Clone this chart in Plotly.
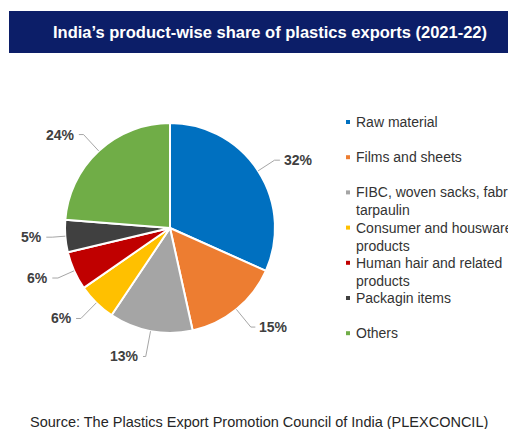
import math
import plotly.graph_objects as go

# ---- data ----
categories = [
    "Raw material",
    "Films and sheets",
    "FIBC, woven sacks, fabrics and<br>tarpaulin",
    "Consumer and housware<br>products",
    "Human hair and related<br>products",
    "Packagin items",
    "Others",
]
shares = [32, 15, 13, 6, 6, 5, 24]
colors = ["#0070C0", "#ED7D31", "#A5A5A5", "#FFC000", "#C00000", "#404040", "#70AD47"]

title_text = "India\u2019s product-wise share of plastics exports (2021-22)"
source_text = "Source: The Plastics Export Promotion Council of India (PLEXCONCIL)"

# ---- layout geometry (pixels) ----
W, H = 508, 429
CX, CY, R = 170, 228, 105
FONT = "Liberation Sans, Arial, sans-serif"


def px(x):
    return x / W


def py(y):
    return 1 - y / H


fig = go.Figure()
fig.add_trace(go.Pie(
    labels=[c.replace("<br>", " ") for c in categories],
    values=shares,
    marker=dict(colors=colors, line=dict(color="white", width=2)),
    sort=False,
    direction="clockwise",
    rotation=0,
    textinfo="none",
    hoverinfo="label+value",
    showlegend=False,
    domain=dict(x=[px(CX - R), px(CX + R)], y=[py(CY + R), py(CY - R)]),
))

shapes = []
annotations = []

# title bar
shapes.append(dict(type="rect", xref="paper", yref="paper",
                   x0=px(9), x1=1.0, y0=py(53), y1=py(11),
                   fillcolor="#0c1e68", line=dict(width=0), layer="below"))
annotations.append(dict(text="<b>" + title_text + "</b>", xref="paper", yref="paper",
                        x=px(270), y=py(32), xanchor="center", yanchor="middle",
                        showarrow=False, font=dict(family=FONT, size=16.5, color="white")))

# data labels with elbow leader lines
total = sum(shares)
cum = 0
for v in shares:
    t = math.radians((cum + v / 2) / total * 360)
    cum += v
    s, c = math.sin(t), -math.cos(t)
    d = 12 + 14 * abs(c)
    x0, y0 = CX + R * s, CY + R * c
    x1, y1 = CX + (R + d) * s, CY + (R + d) * c
    side = 1 if s >= 0 else -1
    x2 = x1 + side * (2 + 4 * abs(s))
    shapes.append(dict(type="path", xref="paper", yref="paper",
                       path=f"M {px(x0)},{py(y0)} L {px(x1)},{py(y1)} L {px(x2)},{py(y1)}",
                       line=dict(color="#a6a6a6", width=1)))
    annotations.append(dict(text=f"<b>{v}%</b>", xref="paper", yref="paper",
                            x=px(x2 + side * 2), y=py(y1),
                            xanchor="left" if side > 0 else "right", yanchor="middle",
                            showarrow=False,
                            font=dict(family=FONT, size=14, color="#404040")))

# legend (manual, to match tiny square markers)
LEG_X, LEG_Y0, LEG_DY = 348, 122, 35.2
for i, (name, col) in enumerate(zip(categories, colors)):
    yc = LEG_Y0 + i * LEG_DY
    shapes.append(dict(type="rect", xref="paper", yref="paper",
                       x0=px(LEG_X - 2), x1=px(LEG_X + 2), y0=py(yc + 2), y1=py(yc - 2),
                       fillcolor=col, line=dict(width=0)))
    annotations.append(dict(text=name, xref="paper", yref="paper",
                            x=px(LEG_X + 6), y=py(yc - 10), xanchor="left", yanchor="top",
                            align="left", showarrow=False,
                            font=dict(family=FONT, size=14, color="#333333")))

# source
annotations.append(dict(text=source_text, xref="paper", yref="paper",
                        x=px(259), y=py(422), xanchor="center", yanchor="middle",
                        showarrow=False, font=dict(family=FONT, size=14.5, color="#262626")))

fig.update_layout(
    width=W, height=H,
    margin=dict(l=0, r=0, t=0, b=0),
    paper_bgcolor="white",
    plot_bgcolor="white",
    shapes=shapes,
    annotations=annotations,
)

fig.write_html("out.html", config={"displayModeBar": False},
               post_script="document.body.style.margin='0';")
